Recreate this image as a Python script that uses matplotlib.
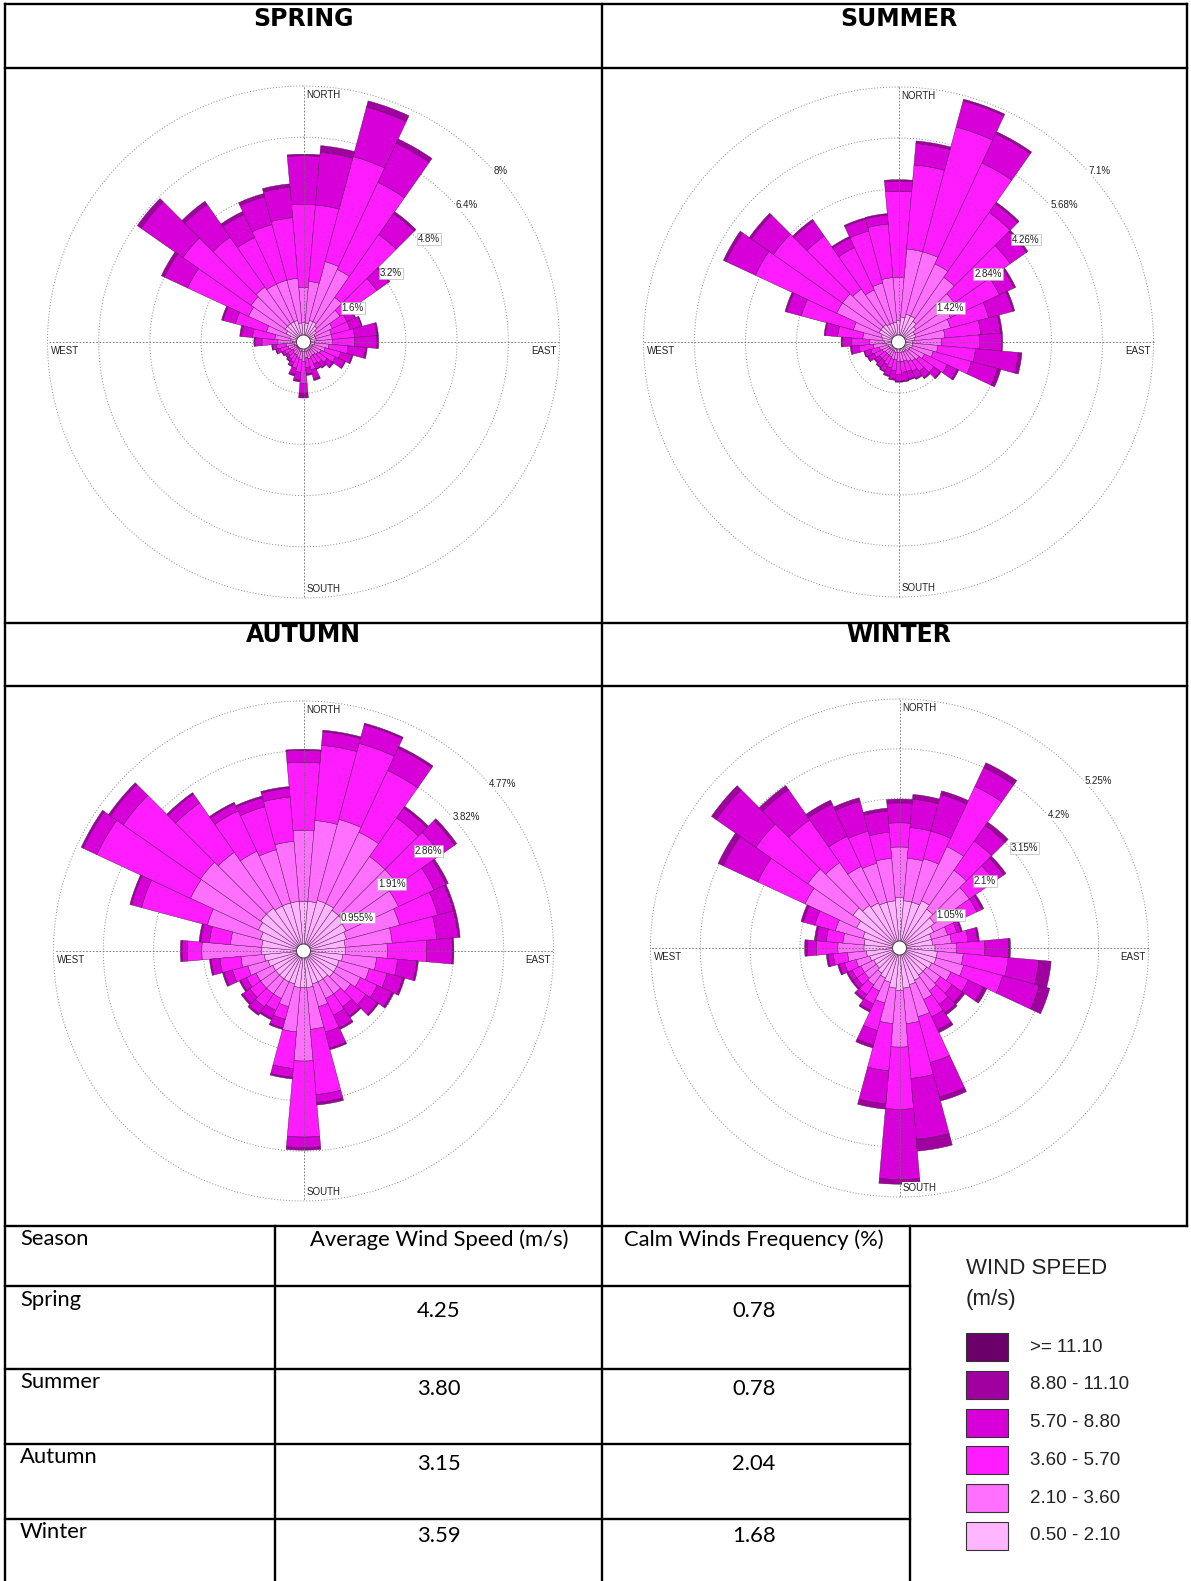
import numpy as np
import matplotlib.pyplot as plt
from matplotlib.patches import Rectangle, Circle

W, H = 1191, 1581
DIRS = np.arange(0, 360, 10)  # sector centres, degrees clockwise from north

SPEED_LABELS = [">= 11.10", "8.80 - 11.10", "5.70 - 8.80", "3.60 - 5.70", "2.10 - 3.60", "0.50 - 2.10"]
SPEED_COLORS = ["#6b006b", "#a000a0", "#d800d8", "#ff1cff", "#ff70ff", "#ffb5ff"]

# frequency (%) per 10-degree sector, one list per speed class (lightest first)
spring_1 = [0.60, 0.60, 0.70, 0.70, 0.60, 0.50, 0.40, 0.40, 0.40, 0.35, 0.35, 0.30,
            0.30, 0.30, 0.30, 0.30, 0.30, 0.30, 0.30, 0.30, 0.30, 0.25, 0.25, 0.25,
            0.25, 0.30, 0.30, 0.35, 0.40, 0.45, 0.60, 0.70, 0.70, 0.70, 0.70, 0.60]
spring_2 = [1.10, 1.30, 1.90, 1.80, 1.10, 0.90, 0.60, 0.50, 0.50, 0.55, 0.45, 0.40,
            0.30, 0.25, 0.20, 0.20, 0.25, 0.20, 0.30, 0.25, 0.20, 0.20, 0.20, 0.15,
            0.20, 0.20, 0.25, 0.45, 0.50, 0.75, 1.30, 1.30, 1.40, 1.30, 1.30, 1.40]
spring_3 = [2.60, 2.40, 3.40, 3.00, 2.40, 1.40, 0.50, 0.60, 0.70, 0.70, 0.60, 0.50,
            0.50, 0.35, 0.30, 0.25, 0.35, 0.30, 0.70, 0.40, 0.35, 0.25, 0.20, 0.20,
            0.20, 0.25, 0.30, 0.50, 0.70, 1.00, 2.10, 2.60, 1.90, 1.60, 1.80, 1.90]
spring_4 = [1.52, 1.65, 1.60, 1.35, 0.80, 0.45, 0.28, 0.38, 0.70, 0.70, 0.55, 0.37,
            0.32, 0.22, 0.18, 0.18, 0.30, 0.20, 0.30, 0.25, 0.20, 0.13, 0.08, 0.08,
            0.08, 0.13, 0.13, 0.22, 0.35, 0.40, 0.80, 1.60, 1.25, 0.80, 0.90, 0.95]
spring_5 = [0.05, 0.21, 0.20, 0.15, 0.07, 0.05, 0.02, 0.02, 0.05, 0.05, 0.05, 0.03,
            0.03, 0.03, 0.02, 0.02, 0.05, 0.05, 0.15, 0.05, 0.05, 0.02, 0.02, 0.02,
            0.02, 0.02, 0.02, 0.03, 0.05, 0.05, 0.10, 0.14, 0.12, 0.10, 0.10, 0.11]

summer_1 = [0.60, 0.70, 0.80, 0.80, 0.70, 0.60, 0.50, 0.50, 0.45, 0.40, 0.40, 0.40,
            0.35, 0.35, 0.30, 0.30, 0.30, 0.30, 0.30, 0.30, 0.30, 0.28, 0.28, 0.28,
            0.30, 0.30, 0.35, 0.40, 0.45, 0.50, 0.60, 0.60, 0.60, 0.55, 0.55, 0.55]
summer_2 = [1.20, 1.90, 1.80, 1.60, 1.50, 1.30, 1.10, 1.00, 0.85, 0.80, 0.70, 0.60,
            0.45, 0.35, 0.35, 0.30, 0.25, 0.25, 0.25, 0.20, 0.20, 0.17, 0.17, 0.17,
            0.20, 0.25, 0.35, 0.40, 0.55, 0.80, 1.30, 1.30, 1.20, 1.05, 1.15, 1.25]
summer_3 = [2.40, 2.35, 3.60, 3.10, 2.20, 1.90, 1.50, 1.10, 1.00, 1.05, 1.05, 1.10,
            0.70, 0.50, 0.35, 0.30, 0.30, 0.30, 0.35, 0.30, 0.25, 0.25, 0.20, 0.20,
            0.25, 0.25, 0.40, 0.50, 0.70, 1.50, 2.50, 2.35, 1.80, 1.30, 1.50, 1.50]
summer_4 = [0.28, 0.60, 0.75, 0.90, 0.30, 0.55, 0.45, 0.70, 0.55, 0.62, 1.20, 0.75,
            0.30, 0.22, 0.22, 0.22, 0.22, 0.24, 0.19, 0.24, 0.22, 0.20, 0.21, 0.16,
            0.19, 0.18, 0.22, 0.27, 0.35, 0.42, 0.90, 0.75, 0.52, 0.30, 0.34, 0.25]
summer_5 = [0.04, 0.07, 0.05, 0.06, 0.05, 0.05, 0.05, 0.05, 0.05, 0.03, 0.10, 0.10,
            0.05, 0.03, 0.03, 0.03, 0.03, 0.03, 0.03, 0.03, 0.03, 0.02, 0.02, 0.02,
            0.02, 0.02, 0.03, 0.03, 0.03, 0.05, 0.08, 0.07, 0.05, 0.04, 0.04, 0.04]

autumn_1 = [0.95, 0.95, 1.00, 1.00, 0.95, 0.95, 0.90, 0.85, 0.80, 0.80, 0.75, 0.70,
            0.70, 0.70, 0.65, 0.65, 0.65, 0.70, 0.70, 0.70, 0.65, 0.65, 0.65, 0.65,
            0.65, 0.70, 0.75, 0.80, 0.80, 0.85, 0.95, 1.00, 1.00, 0.95, 0.95, 0.95]
autumn_2 = [1.35, 1.55, 1.60, 1.50, 1.25, 1.25, 1.10, 1.05, 0.90, 0.80, 0.65, 0.60,
            0.50, 0.40, 0.35, 0.35, 0.45, 0.80, 1.40, 0.85, 0.45, 0.35, 0.35, 0.35,
            0.35, 0.40, 0.45, 1.14, 0.60, 1.05, 1.43, 1.40, 1.30, 1.15, 1.05, 1.15]
autumn_3 = [1.30, 1.44, 1.50, 1.30, 0.90, 1.00, 0.75, 0.75, 0.85, 0.75, 0.40, 0.35,
            0.35, 0.35, 0.30, 0.35, 0.50, 1.25, 1.45, 0.70, 0.25, 0.25, 0.30, 0.25,
            0.20, 0.30, 0.40, 0.28, 0.40, 1.30, 1.97, 1.80, 1.15, 0.85, 0.85, 0.85]
autumn_4 = [0.23, 0.26, 0.37, 0.47, 0.23, 0.32, 0.25, 0.31, 0.41, 0.49, 0.37, 0.31,
            0.31, 0.27, 0.22, 0.27, 0.32, 0.15, 0.20, 0.17, 0.17, 0.17, 0.17, 0.17,
            0.12, 0.17, 0.17, 0.10, 0.17, 0.20, 0.29, 0.30, 0.21, 0.15, 0.18, 0.17]
autumn_5 = [0.02, 0.03, 0.03, 0.04, 0.04, 0.05, 0.05, 0.04, 0.04, 0.03, 0.03, 0.04,
            0.04, 0.03, 0.03, 0.03, 0.03, 0.05, 0.05, 0.03, 0.03, 0.03, 0.03, 0.03,
            0.03, 0.03, 0.03, 0.03, 0.03, 0.03, 0.04, 0.04, 0.03, 0.03, 0.03, 0.03]

winter_1 = [1.06, 1.00, 1.00, 1.10, 1.00, 0.90, 0.80, 0.70, 0.70, 0.75, 0.80, 0.80,
            0.75, 0.70, 0.70, 0.75, 0.80, 0.85, 0.90, 0.85, 0.75, 0.70, 0.65, 0.60,
            0.60, 0.65, 0.70, 0.75, 0.75, 0.80, 1.00, 1.20, 1.10, 1.05, 1.00, 1.00]
winter_2 = [1.07, 0.90, 0.95, 1.26, 1.00, 0.90, 0.65, 0.35, 0.40, 0.45, 0.55, 0.60,
            0.45, 0.35, 0.40, 0.45, 0.70, 0.75, 1.19, 0.75, 0.45, 0.30, 0.30, 0.30,
            0.30, 0.30, 0.40, 0.55, 0.45, 0.60, 1.20, 1.16, 1.10, 0.85, 0.85, 0.90]
winter_3 = [0.51, 0.65, 0.60, 1.40, 0.75, 0.65, 0.35, 0.20, 0.35, 0.60, 0.95, 0.85,
            0.40, 0.30, 0.35, 0.40, 1.00, 1.16, 1.31, 1.00, 0.60, 0.30, 0.25, 0.20,
            0.20, 0.25, 0.30, 0.45, 0.35, 0.45, 1.10, 1.34, 1.10, 0.70, 0.70, 0.55]
winter_4 = [0.42, 0.60, 0.80, 0.44, 0.40, 0.23, 0.12, 0.09, 0.20, 0.50, 0.65, 0.80,
            0.35, 0.27, 0.22, 0.30, 0.75, 1.29, 1.48, 0.70, 0.32, 0.15, 0.11, 0.10,
            0.10, 0.12, 0.11, 0.20, 0.21, 0.25, 0.80, 1.02, 0.78, 0.75, 0.65, 0.45]
winter_5 = [0.08, 0.10, 0.08, 0.11, 0.09, 0.06, 0.04, 0.03, 0.04, 0.04, 0.26, 0.23,
            0.08, 0.06, 0.05, 0.07, 0.09, 0.25, 0.10, 0.11, 0.06, 0.04, 0.03, 0.03,
            0.03, 0.03, 0.04, 0.05, 0.04, 0.05, 0.12, 0.12, 0.10, 0.09, 0.08, 0.06]

spring_rings = [1.6, 3.2, 4.8, 6.4, 8.0]
summer_rings = [1.42, 2.84, 4.26, 5.68, 7.1]
autumn_rings = [0.955, 1.91, 2.86, 3.82, 4.77]
winter_rings = [1.05, 2.1, 3.15, 4.2, 5.25]

seasons = ["Spring", "Summer", "Autumn", "Winter"]
avg_speed = ["4.25", "3.80", "3.15", "3.59"]
calm_freq = ["0.78", "0.78", "2.04", "1.68"]

SANS = ["Liberation Sans", "DejaVu Sans"]
BODY = ["Lato", "DejaVu Sans"]

fig = plt.figure(figsize=(W / 100, H / 100), dpi=100)
fig.patch.set_facecolor("white")

# overlay in pixel coordinates for frame, text and labels
ov = fig.add_axes([0, 0, 1, 1], zorder=10)
ov.set_xlim(0, W)
ov.set_ylim(H, 0)
ov.axis("off")


def fmt(v):
    return ("%g" % v) + "%"


def draw_rose(cx, cy, R, rings, classes):
    rmax = rings[-1]
    ax = fig.add_axes([(cx - R) / W, 1 - (cy + R) / H, 2 * R / W, 2 * R / H],
                      projection="polar", zorder=2)
    ax.set_theta_zero_location("N")
    ax.set_theta_direction(-1)
    ax.axis("off")
    ax.set_ylim(0, rmax)

    theta = np.deg2rad(DIRS)
    bottom = np.zeros(len(DIRS))
    colors = SPEED_COLORS[::-1]
    for vals, col in zip(classes, colors):
        vals = np.asarray(vals)
        ax.bar(theta, vals, width=np.deg2rad(10), bottom=bottom, color=col,
               edgecolor="#4a1048", linewidth=0.3, zorder=2)
        bottom += vals

    t = np.linspace(0, 2 * np.pi, 500)
    for r in rings:
        ax.plot(t, np.full_like(t, r), color="#8a8a8a", lw=0.7,
                ls=(0, (1, 2)), zorder=1, clip_on=False)
    for a in (0, 90, 180, 270):
        ax.plot([np.deg2rad(a)] * 2, [0, rmax], color="#6a6a6a", lw=0.6,
                ls=(0, (2, 2)), zorder=3, clip_on=False)

    # compass labels
    fs = 7
    ov.text(cx + 3, cy - R + 4, "NORTH", fontsize=fs, family=SANS, color="#222222",
            ha="left", va="top")
    ov.text(cx + 3, cy + R - 4, "SOUTH", fontsize=fs, family=SANS, color="#222222",
            ha="left", va="bottom", bbox=dict(fc="white", ec="none", pad=0.5))
    ov.text(cx - R + 3, cy + 4, "WEST", fontsize=fs, family=SANS, color="#222222",
            ha="left", va="top")
    ov.text(cx + R - 3, cy + 4, "EAST", fontsize=fs, family=SANS, color="#222222",
            ha="right", va="top")

    # ring percentages along the north-east diagonal; boxed where they sit on a bar
    ang = np.deg2rad(48)
    ne_total = max(bottom[4], bottom[5])
    for r in rings:
        pr = r / rmax * R
        edge = "#a8a8a8" if r < ne_total else "none"
        ov.text(cx + pr * np.sin(ang), cy - pr * np.cos(ang), fmt(r), fontsize=fs,
                family=SANS, color="#222222", ha="left", va="center",
                bbox=dict(fc="white", ec=edge, lw=0.4, pad=0.6))

    ov.add_patch(Circle((cx, cy), 7, fc="white", ec="#333333", lw=0.6, zorder=5))


draw_rose(303.5, 342, 256, spring_rings, [spring_1, spring_2, spring_3, spring_4, spring_5])
draw_rose(898.5, 342, 255, summer_rings, [summer_1, summer_2, summer_3, summer_4, summer_5])
draw_rose(303.5, 951, 250, autumn_rings, [autumn_1, autumn_2, autumn_3, autumn_4, autumn_5])
draw_rose(899.5, 948, 249, winter_rings, [winter_1, winter_2, winter_3, winter_4, winter_5])

# frame of the layout table
LW = 1.7
def hline(y, x0, x1):
    ov.plot([x0, x1], [y, y], color="black", lw=LW, solid_capstyle="projecting")

def vline(x, y0, y1):
    ov.plot([x, x], [y0, y1], color="black", lw=LW, solid_capstyle="projecting")

L, Rt, MID = 5, 1187, 602
hline(4, L, Rt)
hline(68, L, Rt)
hline(623, L, Rt)
hline(686, L, Rt)
hline(1226, L, Rt)
vline(L, 4, H)
vline(Rt, 4, 1226)
vline(MID, 4, H)
vline(275, 1226, H)
vline(910, 1226, H)
for y in (1286, 1369, 1444, 1519):
    hline(y, L, 910)

# season titles
for x, y, s in [(303.5, 19, "SPRING"), (898.5, 19, "SUMMER"),
                (303.5, 635, "AUTUMN"), (898.5, 635, "WINTER")]:
    ov.text(x, y, s, fontsize=17, fontweight="bold", family="DejaVu Sans",
            ha="center", va="center")

# statistics table
TFS = 15.8
ov.text(20, 1229, "Season", fontsize=TFS, family=BODY, ha="left", va="top")
ov.text(439, 1229, "Average Wind Speed (m/s)", fontsize=TFS, family=BODY, ha="center", va="top")
ov.text(754, 1229, "Calm Winds Frequency (%)", fontsize=TFS, family=BODY, ha="center", va="top")
label_y = [1290, 1372, 1447, 1522]
value_y = [1311, 1389, 1464, 1536]
for s, a, c, ly, vy in zip(seasons, avg_speed, calm_freq, label_y, value_y):
    ov.text(20, ly, s, fontsize=TFS, family=BODY, ha="left", va="top")
    ov.text(439, vy, a, fontsize=TFS, family=BODY, ha="center", va="center")
    ov.text(754, vy, c, fontsize=TFS, family=BODY, ha="center", va="center")

# speed legend
ov.text(966, 1269, "WIND SPEED", fontsize=16, family=SANS, color="#222222", ha="left", va="center")
ov.text(966, 1299, "(m/s)", fontsize=16, family=SANS, color="#222222", ha="left", va="center")
for i, (lab, col) in enumerate(zip(SPEED_LABELS, SPEED_COLORS)):
    yc = 1347 + i * 37.8
    ov.add_patch(Rectangle((966, yc - 14), 42, 28, fc=col, ec="#333333", lw=0.8))
    ov.text(1030, yc, lab, fontsize=13.5, family=SANS, color="#222222", ha="left", va="center")

fig.savefig("out.png", dpi=100)
